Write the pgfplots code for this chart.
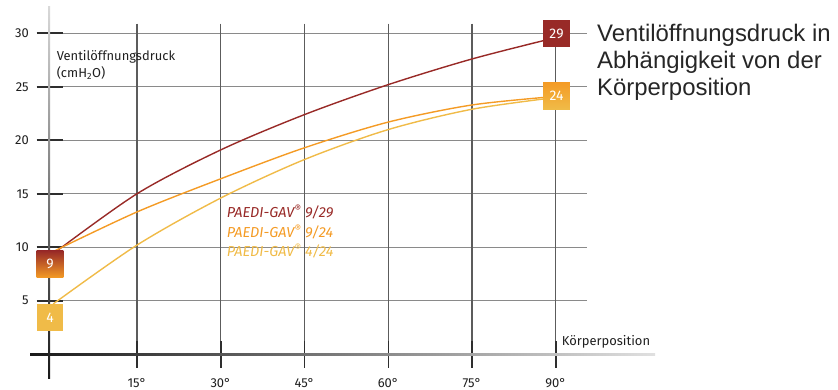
\documentclass[border=0pt]{standalone}
\usepackage{fontspec}
\setmainfont{Fira Sans}
\newfontfamily\titlefont{Liberation Sans}
\usepackage{pgfplots}
\pgfplotsset{compat=1.18}
\definecolor{cRed}{HTML}{982A27}
\definecolor{cOrange}{HTML}{F49B25}
\definecolor{cLight}{HTML}{F0BB48}
\definecolor{gridH}{HTML}{8A8A8A}
\definecolor{gridV}{HTML}{5C5C5C}
\definecolor{tickD}{HTML}{2E2E2E}
\begin{document}
\begin{tikzpicture}
\useasboundingbox (0,0) rectangle (838bp,390bp);
\begin{axis}[
  at={(53.25bp,35.8bp)}, anchor=south west,
  scale only axis, width=502.5bp, height=320.9bp,
  xmin=0, xmax=90, ymin=0, ymax=30,
  clip=false,
  axis line style={draw=none},
  tick style={draw=none},
  major tick length=0pt,
  xtick={15,30,45,60,75,90},
  xticklabels={15°,30°,45°,60°,75°,90°},
  ytick={5,10,15,20,25,30},
  /pgf/number format/assume math mode=true,
  ticklabel style={font=\fontsize{13}{15}\selectfont, text=black!88},
  xticklabel style={yshift=-21bp},
  yticklabel style={xshift=-21bp},
]
% horizontal grid lines
\foreach \yy in {5,10,15,20,25,30} {
  \edef\tmp{\noexpand\draw[gridH, line width=1.4bp] (axis cs:1.75,\yy) -- (axis cs:95.6,\yy);
  \noexpand\draw[tickD, line width=1.6bp] (axis cs:-2.96,\yy) -- (axis cs:1.75,\yy);}\tmp
}
% vertical grid lines
\foreach \xx in {15,30,45,60,75,90} {
  \edef\tmp{\noexpand\draw[gridV, line width=1.1bp] (axis cs:\xx,30.9) -- (axis cs:\xx,1.2);
  \noexpand\draw[tickD, line width=1.5bp] (axis cs:\xx,1.2) -- (axis cs:\xx,-1.3);}\tmp
}
% axis lines with gradient
\shade[left color=black!90, right color=black!12] (axis cs:-4.16,-0.1) rectangle (axis cs:107.8,0.1);
\shade[bottom color=black!90, top color=black!15] (axis cs:-0.94,-2.23) rectangle (axis cs:-0.58,32.5);

% curves
\addplot[cRed, line width=1.4bp, smooth] coordinates {
  (0,9.4) (15,15.0) (30,19.1) (45,22.4) (60,25.2) (75,27.6) (90,29.6)};
\addplot[cOrange, line width=1.4bp, smooth] coordinates {
  (0,9.6) (15,13.3) (30,16.4) (45,19.3) (60,21.7) (75,23.3) (90,24.1)};
\addplot[cLight, line width=1.4bp, smooth] coordinates {
  (0,4.7) (15,10.2) (30,14.6) (45,18.2) (60,21.0) (75,22.9) (90,24.0)};

% value boxes
\tikzset{vbox/.style={minimum width=26.7bp, minimum height=26.7bp, inner sep=0pt,
  text=white, font=\fontsize{14}{15}\selectfont}}
\shade[top color=cRed, bottom color=cOrange] (axis cs:-2.97,7.15) rectangle (axis cs:1.81,9.65);
\node[vbox] at (axis cs:-0.58,8.4) {9};
\node[vbox, fill=cLight] at (axis cs:-0.58,3.4) {4};
\node[vbox, fill=cRed] at (axis cs:90.14,29.97) {29};
\shade[top color=cOrange, bottom color=cLight] (axis cs:87.75,22.9) rectangle (axis cs:92.53,25.4);
\node[vbox] at (axis cs:90.14,24.15) {24};

% legend texts
\node[anchor=base west, inner sep=0pt, text=cRed, font=\fontsize{14.5}{16}\itshape] at (axis cs:31.07,12.75) {PAEDI-GAV\textsuperscript{®} 9/29};
\node[anchor=base west, inner sep=0pt, text=cOrange, font=\fontsize{14.5}{16}\itshape] at (axis cs:31.07,10.87) {PAEDI-GAV\textsuperscript{®} 9/24};
\node[anchor=base west, inner sep=0pt, text=cLight, font=\fontsize{14.5}{16}\itshape] at (axis cs:31.07,9.15) {PAEDI-GAV\textsuperscript{®} 4/24};

% axis labels
\node[anchor=base west, inner sep=0pt, text=black!88, font=\fontsize{13}{16.6}\selectfont, align=left] at (axis cs:0.6,25.87) {Ventilöffnungsdruck\\(cmH\textsubscript{2}O)};
\node[anchor=base west, inner sep=0pt, text=black!88, font=\fontsize{13}{14}\selectfont] at (axis cs:91.07,0.86) {Körperposition};
\end{axis}
% title
\node[anchor=base west, inner sep=0pt, align=left, text=black!85, font=\titlefont\fontsize{24}{27}\selectfont] at (597bp,294.5bp) {Ventilöffnungsdruck in\\Abhängigkeit von der\\Körperposition};
\end{tikzpicture}
\end{document}
